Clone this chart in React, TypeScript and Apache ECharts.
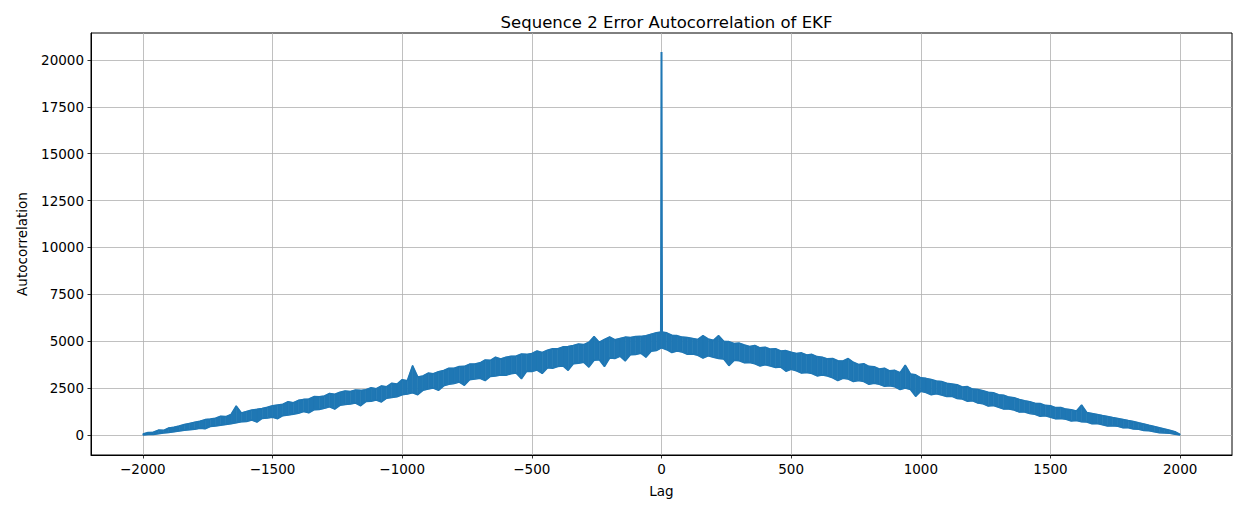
import React, { useEffect, useRef } from "react";
import * as echarts from "echarts";

const TITLE = "Sequence 2 Error Autocorrelation of EKF";
const X_LABEL = "Lag";
const Y_LABEL = "Autocorrelation";
const X_TICKS = [-2000, -1500, -1000, -500, 0, 500, 1000, 1500, 2000];
const Y_TICKS = [0, 2500, 5000, 7500, 10000, 12500, 15000, 17500, 20000];
const LAG_STEP = 20;

// Noisy band: lower / upper edge of the trace
// negative lags: -2000, -1980, ..., -20
const negLower = [
  0, 20, 30, 70, 110, 130, 170, 210, 250, 280,
  300, 360, 330, 450, 480, 520, 560, 600, 650, 700,
  720, 800, 690, 880, 900, 950, 870, 1030, 1060, 1110,
  1160, 1250, 1180, 1340, 1360, 1420, 1500, 1380, 1580, 1620,
  1650, 1700, 1560, 1780, 1800, 1860, 1760, 1960, 2000, 2040,
  2150, 2180, 2250, 2150, 2380, 2450, 2500, 2380, 2620, 2700,
  2740, 2820, 2650, 2950, 2980, 3020, 2900, 3120, 3150, 3200,
  3180, 3270, 3300, 3000, 3400, 3380, 3460, 3280, 3580, 3560,
  3650, 3680, 3450, 3800, 3820, 3880, 3620, 3980, 4010, 3650,
  4100, 4080, 4200, 3950, 4280, 4290, 4360, 4150, 4470, 4500,
];
const negUpper = [
  60, 130, 150, 260, 250, 380, 420, 480, 560, 620,
  680, 740, 820, 850, 900, 1000, 980, 1100, 1550, 1180,
  1260, 1330, 1370, 1420, 1480, 1560, 1600, 1640, 1780, 1720,
  1850, 1900, 1920, 2050, 2040, 2080, 2220, 2170, 2280, 2350,
  2320, 2400, 2380, 2420, 2520, 2470, 2620, 2580, 2760, 2720,
  2950, 2900, 3700, 3100, 3150, 3300, 3270, 3380, 3440, 3560,
  3560, 3650, 3660, 3780, 3790, 3850, 4000, 3980, 4150, 4060,
  4150, 4200, 4210, 4320, 4300, 4350, 4480, 4400, 4520, 4600,
  4600, 4700, 4720, 4780, 4850, 4820, 4950, 5250, 4950, 5100,
  5230, 5080, 5150, 5220, 5200, 5250, 5260, 5300, 5380, 5450,
];
// lag 0
const zeroLower = 4650;
const zeroUpper = 5500;
const peakValue = 20420;
// positive lags: 20, 40, ..., 2000
const posLower = [
  4550, 4400, 4480, 4420, 4300, 4320, 4250, 4100, 4220, 4150,
  4080, 4050, 3700, 3980, 3960, 3850, 3870, 3800, 3680, 3750,
  3680, 3600, 3620, 3400, 3500, 3420, 3300, 3330, 3280, 3150,
  3200, 3150, 3050, 2900, 3020, 2980, 2850, 2900, 2850, 2700,
  2760, 2700, 2600, 2620, 2570, 2420, 2500, 2430, 2060, 2330,
  2260, 2150, 2200, 2130, 2050, 2060, 1940, 1920, 1800, 1820,
  1700, 1660, 1540, 1570, 1480, 1380, 1380, 1330, 1220, 1230,
  1140, 1100, 1000, 1020, 950, 860, 880, 840, 750, 770,
  700, 690, 600, 610, 550, 480, 490, 460, 380, 390,
  320, 310, 240, 230, 170, 120, 110, 90, 40, 0,
];
const posUpper = [
  5450, 5320, 5300, 5220, 5200, 5150, 5100, 5300, 5120, 5050,
  5300, 5000, 4980, 4880, 4900, 4800, 4720, 4780, 4650, 4680,
  4580, 4600, 4480, 4500, 4420, 4350, 4380, 4270, 4300, 4180,
  4150, 4060, 4080, 3960, 3950, 4080, 3880, 3760, 3800, 3660,
  3640, 3520, 3560, 3420, 3450, 3320, 3730, 3260, 3210, 3050,
  3020, 2960, 2880, 2850, 2760, 2720, 2680, 2560, 2580, 2450,
  2430, 2360, 2280, 2250, 2150, 2120, 2020, 1990, 1900, 1830,
  1780, 1690, 1680, 1580, 1560, 1460, 1470, 1380, 1350, 1280,
  1600, 1200, 1150, 1100, 1040, 990, 930, 880, 830, 770,
  720, 650, 590, 520, 460, 390, 320, 250, 180, 30,
];

const FONT = "DejaVu Sans";
const COLOR = "#1f77b4";
const fmt = (v: number) => String(v).replace("-", "\u2212");

export default function App() {
  const ref = useRef<HTMLDivElement>(null);
  useEffect(() => {
    if (!ref.current) return;
    const chart = echarts.init(ref.current, undefined, { renderer: "svg" });
    const lags: number[] = [];
    negLower.forEach((_, i) => lags.push(-2000 + i * LAG_STEP));
    lags.push(0);
    posLower.forEach((_, i) => lags.push((i + 1) * LAG_STEP));
    const lower = [...negLower, zeroLower, ...posLower];
    const upper = [...negUpper, zeroUpper, ...posUpper];
    const lowerData = lags.map((x, i) => [x, lower[i]]);
    const upperData = lags.map((x, i) => [x, upper[i]]);
    const segData: number[][] = [];
    for (let i = 0; i < lags.length - 1; i++) {
      segData.push([lags[i], lower[i], upper[i], lags[i + 1], lower[i + 1], upper[i + 1]]);
    }
    const spikeData = [
      [-2, zeroUpper - 100],
      [0, peakValue],
      [2, zeroUpper - 150],
    ];
    const axisCommon = {
      nameLocation: "middle",
      nameTextStyle: { fontFamily: FONT, fontSize: 13.5, color: "#000" },
      axisLine: { show: true, onZero: false, lineStyle: { color: "#000", width: 1 } },
      splitLine: { show: true, lineStyle: { color: "#b0b0b0", width: 0.8 } },
    };
    chart.setOption({
      animation: false,
      backgroundColor: "#ffffff",
      title: {
        text: TITLE,
        left: 661.5,
        textAlign: "center",
        top: 9,
        textStyle: { fontFamily: FONT, fontSize: 16.5, fontWeight: "normal", color: "#000" },
      },
      grid: {
        left: 91,
        right: 8,
        top: 33,
        bottom: 50,
        show: true,
        borderColor: "#000",
        borderWidth: 1,
        backgroundColor: "transparent",
      },
      xAxis: {
        ...axisCommon,
        type: "value",
        min: -2200,
        max: 2200,
        name: X_LABEL,
        nameGap: 29,
        axisTick: { show: true, length: 3.5, customValues: X_TICKS, lineStyle: { color: "#000", width: 0.8 } },
        axisLabel: {
          customValues: X_TICKS,
          margin: 7,
          fontFamily: FONT,
          fontSize: 13.5,
          color: "#000",
          formatter: (v: number) => fmt(v),
        },
      },
      yAxis: {
        ...axisCommon,
        type: "value",
        min: -1067,
        max: 21440,
        name: Y_LABEL,
        nameGap: 62,
        nameRotate: 90,
        axisTick: { show: true, length: 3.5, customValues: Y_TICKS, lineStyle: { color: "#000", width: 0.8 } },
        axisLabel: {
          customValues: Y_TICKS,
          margin: 7,
          fontFamily: FONT,
          fontSize: 13.5,
          color: "#000",
          formatter: (v: number) => fmt(v),
        },
      },
      series: [
        {
          type: "custom",
          data: segData,
          encode: { x: [0, 3], y: [1, 2, 4, 5] },
          silent: true,
          renderItem: (params: any, api: any) => {
            const x0 = api.value(0), l0 = api.value(1), u0 = api.value(2);
            const x1 = api.value(3), l1 = api.value(4), u1 = api.value(5);
            const pts = [
              api.coord([x0, l0]),
              api.coord([x1, l1]),
              api.coord([x1, u1]),
              api.coord([x0, u0]),
            ];
            return {
              type: "polygon",
              shape: { points: pts },
              style: { fill: COLOR, stroke: COLOR, lineWidth: 0.6 },
            };
          },
        },
        {
          type: "line",
          data: lowerData,
          symbol: "none",
          showSymbol: false,
          lineStyle: { color: COLOR, width: 1.5 },
        },
        {
          type: "line",
          data: upperData,
          symbol: "none",
          showSymbol: false,
          lineStyle: { color: COLOR, width: 1.5 },
        },
        {
          type: "line",
          data: spikeData,
          symbol: "none",
          showSymbol: false,
          lineStyle: { color: COLOR, width: 2 },
        },
      ],
    });
    return () => chart.dispose();
  }, []);
  return (
    <div
      ref={ref}
      style={{ position: "fixed", left: 0, top: 0, width: 1240, height: 505, background: "#fff" }}
    />
  );
}
